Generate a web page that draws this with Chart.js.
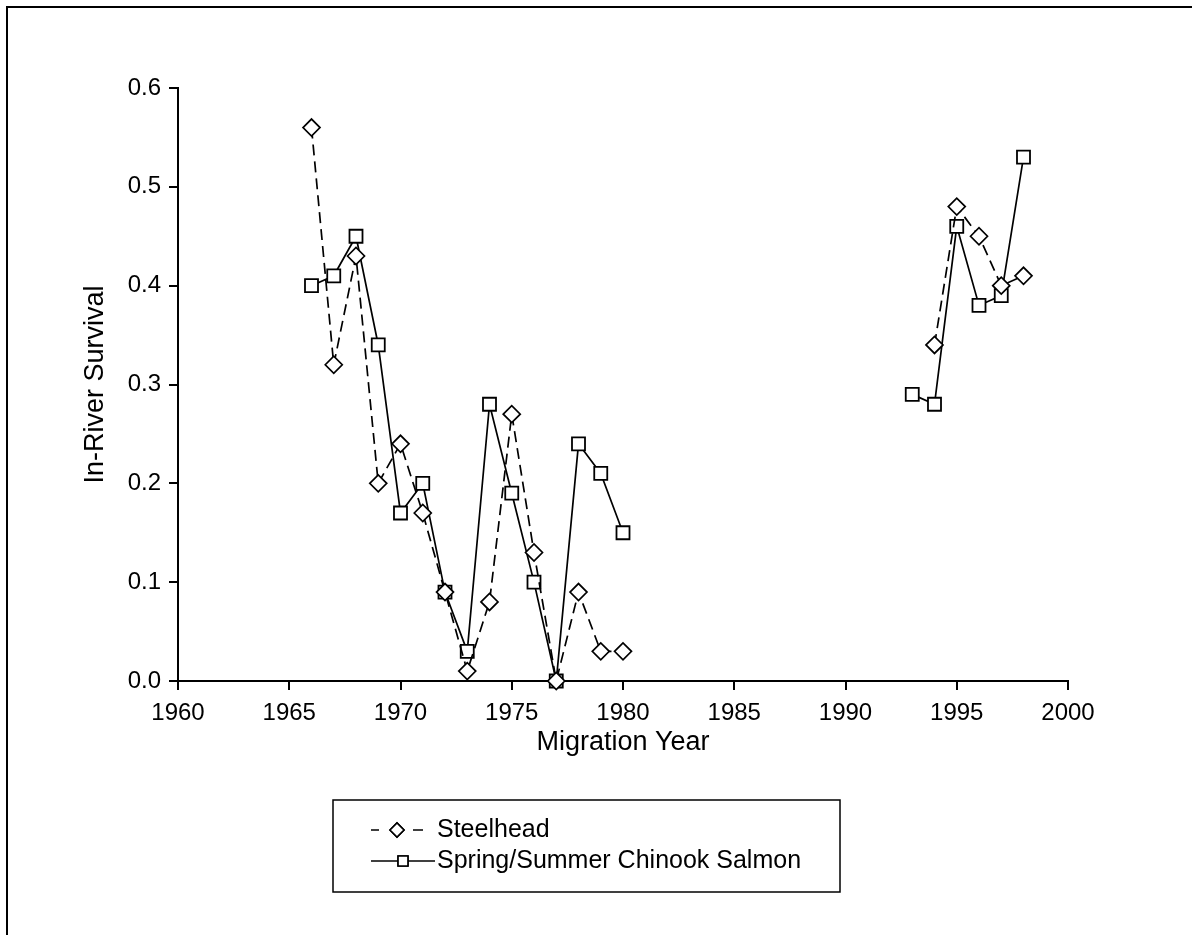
<!DOCTYPE html>
<html>
<head>
<meta charset="utf-8">
<script src="https://cdn.jsdelivr.net/npm/chart.js@4"></script>
<style>
  html, body { margin: 0; padding: 0; background: #fff; }
  #wrap { width: 1192px; height: 935px; }
</style>
</head>
<body>
<div id="wrap"><canvas id="myChart" width="1192" height="935"></canvas></div>
<script>
// migration years and in-river survival
var years = [1966, 1967, 1968, 1969, 1970, 1971, 1972, 1973, 1974, 1975, 1976, 1977, 1978, 1979, 1980,
             1993, 1994, 1995, 1996, 1997, 1998];
var steelhead = [0.56, 0.32, 0.43, 0.20, 0.24, 0.17, 0.09, 0.01, 0.08, 0.27, 0.13, 0.00, 0.09, 0.03, 0.03,
                 null, 0.34, 0.48, 0.45, 0.40, 0.41];
var chinook = [0.40, 0.41, 0.45, 0.34, 0.17, 0.20, 0.09, 0.03, 0.28, 0.19, 0.10, 0.00, 0.24, 0.21, 0.15,
               0.29, 0.28, 0.46, 0.38, 0.39, 0.53];
var seriesNames = ["Steelhead", "Spring/Summer Chinook Salmon"];
var xTicks = [1960, 1965, 1970, 1975, 1980, 1985, 1990, 1995, 2000];
var yTicks = [0.0, 0.1, 0.2, 0.3, 0.4, 0.5, 0.6];

var FONT = "'Liberation Sans', Arial, sans-serif";

function toPoints(vals) {
    return years.map(function (yr, i) { return {x: yr, y: vals[i]}; });
}

// no line across the 1980-1993 hole
function gapColor(ctx) {
    return (ctx.p1.parsed.x - ctx.p0.parsed.x > 1) ? "transparent" : "black";
}

var framePlugin = {
    id: "frame",
    beforeDraw: function (chart) {
        var c = chart.ctx;
        c.save();
        c.fillStyle = "#fff";
        c.fillRect(0, 0, chart.width, chart.height);
        c.strokeStyle = "#000";
        c.lineWidth = 2;
        c.beginPath();
        c.moveTo(7, chart.height);
        c.lineTo(7, 7);
        c.lineTo(chart.width, 7);
        c.stroke();
        c.restore();
    }
};

var legendPlugin = {
    id: "boxLegend",
    afterDraw: function (chart) {
        var c = chart.ctx;
        c.save();
        c.strokeStyle = "#000";
        c.lineWidth = 1.5;
        c.strokeRect(333, 800, 507, 92);
        var rows = [830, 861];
        chart.data.datasets.forEach(function (ds, i) {
            var y = rows[i];
            c.strokeStyle = "#000";
            c.lineWidth = 1.6;
            c.beginPath();
            if (ds.borderDash && ds.borderDash.length) {
                c.moveTo(371, y); c.lineTo(379, y);
                c.moveTo(413, y); c.lineTo(423, y);
            } else {
                c.moveTo(371, y); c.lineTo(435, y);
            }
            c.stroke();
            var px = ds.borderDash && ds.borderDash.length ? 397 : 403;
            Chart.helpers.drawPoint(c, {
                pointStyle: ds.pointStyle,
                radius: 7,
                borderWidth: 1.5
            }, px, y);
            c.fillStyle = "#fff";
            c.fill();
            c.stroke();
            c.fillStyle = "#000";
            c.font = "25px " + FONT;
            c.textBaseline = "middle";
            c.textAlign = "left";
            c.fillText(ds.label, 437, y);
        });
        c.restore();
    }
};

new Chart("myChart", {
    type: "line",
    data: {
        datasets: [{
            label: seriesNames[0],
            data: toPoints(steelhead),
            borderColor: "black",
            borderWidth: 1.7,
            borderDash: [11, 6],
            pointStyle: "rectRot",
            pointRadius: 8.5,
            pointBorderWidth: 1.7,
            pointBorderColor: "black",
            pointBackgroundColor: "white",
            spanGaps: false,
            clip: false,
            segment: {borderColor: gapColor}
        }, {
            label: seriesNames[1],
            data: toPoints(chinook),
            borderColor: "black",
            borderWidth: 1.7,
            pointStyle: "rect",
            pointRadius: 9.2,
            pointBorderWidth: 1.8,
            pointBorderColor: "black",
            pointBackgroundColor: "white",
            spanGaps: false,
            clip: false,
            segment: {borderColor: gapColor}
        }]
    },
    options: {
        responsive: false,
        animation: false,
        events: [],
        layout: {padding: {left: 0, top: 88, right: 124, bottom: 0}},
        plugins: {
            legend: {display: false},
            tooltip: {enabled: false}
        },
        scales: {
            x: {
                type: "linear",
                min: 1960,
                max: 2000,
                afterFit: function (s) { s.height = 254; },
                afterBuildTicks: function (s) { s.ticks = xTicks.map(function (v) { return {value: v}; }); },
                ticks: {
                    color: "#000",
                    padding: 9,
                    maxRotation: 0,
                    autoSkip: false,
                    font: {family: FONT, size: 24},
                    callback: function (v) { return String(v); }
                },
                grid: {drawOnChartArea: false, drawTicks: true, tickLength: 9, color: "#000", lineWidth: 2},
                border: {color: "#000", width: 2},
                title: {
                    display: true,
                    text: "Migration Year",
                    color: "#000",
                    font: {family: FONT, size: 27},
                    padding: {top: 0, bottom: 176}
                }
            },
            y: {
                min: 0,
                max: 0.6,
                afterFit: function (s) { s.width = 178; },
                afterBuildTicks: function (s) { s.ticks = yTicks.map(function (v) { return {value: v}; }); },
                ticks: {
                    color: "#000",
                    padding: 8,
                    font: {family: FONT, size: 24},
                    callback: function (v) { return Number(v).toFixed(1); }
                },
                grid: {drawOnChartArea: false, drawTicks: true, tickLength: 9, color: "#000", lineWidth: 2},
                border: {color: "#000", width: 2},
                title: {
                    display: true,
                    text: "In-River Survival",
                    color: "#000",
                    font: {family: FONT, size: 27},
                    padding: {top: 79, bottom: 0}
                }
            }
        }
    },
    plugins: [framePlugin, legendPlugin]
});
</script>
</body>
</html>
